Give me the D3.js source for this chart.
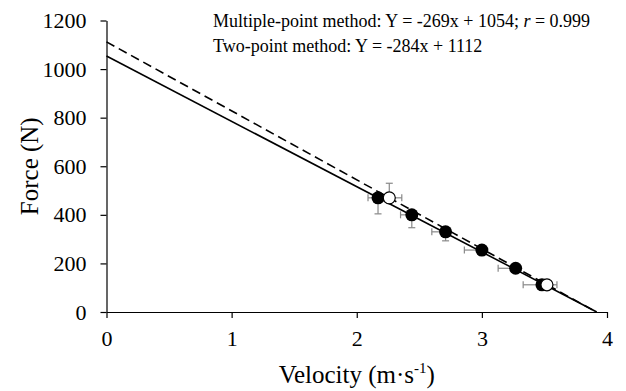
<!DOCTYPE html>
<html>
<head>
<meta charset="utf-8">
<script src="https://cdn.jsdelivr.net/npm/d3@7"></script>
<style>
  body { margin: 0; background: #fff; }
  svg, svg text { font-family: "Liberation Serif", "Times New Roman", serif; }
</style>
</head>
<body>
<div id="chart"></div>
<script>
// multiple-point method (filled), mean with one-sided SD
const multiVelocity = [2.17, 2.44, 2.71, 3.0, 3.27, 3.48];
const multiForce = [470, 400, 330, 255, 180, 112];
const multiVelErr = [0.08, 0.09, 0.11, 0.14, 0.14, 0.15];
const multiForceErr = [66, 53, 37, 20, 15, 10];

// two-point method (open)
const twoVelocity = [2.26, 3.52];
const twoForce = [470, 112];
const twoVelErr = [0.1, 0.08];
const twoForceErr = [60, 10];

// regression lines: slope, intercept
const multiFit = { slope: -269, intercept: 1054 };
const twoFit = { slope: -284, intercept: 1112 };

const xTicks = [0, 1, 2, 3, 4];
const yTicks = [0, 200, 400, 600, 800, 1000, 1200];

const width = 626, height = 391;
const margin = { top: 20.5, right: 19, bottom: 79, left: 106.5 };

const svg = d3.select("#chart").append("svg")
  .attr("width", width).attr("height", height);

const x = d3.scaleLinear().domain([0, 4]).range([margin.left, width - margin.right]);
const y = d3.scaleLinear().domain([0, 1200]).range([height - margin.bottom, margin.top]);

// axes
const xAxis = svg.append("g")
  .attr("transform", `translate(0,${y(0)})`)
  .call(d3.axisBottom(x).tickValues(xTicks).tickFormat(d3.format("d"))
    .tickSize(6).tickSizeOuter(0).tickPadding(12));
const yAxis = svg.append("g")
  .attr("transform", `translate(${x(0)},0)`)
  .call(d3.axisLeft(y).tickValues(yTicks).tickFormat(d3.format("d"))
    .tickSize(6).tickSizeOuter(0).tickPadding(14));

[xAxis, yAxis].forEach(a => {
  a.attr("font-family", null).attr("font-size", 22);
  a.selectAll("path,line").attr("stroke", "#000").attr("stroke-width", 1.2);
  a.selectAll("text").attr("fill", "#000");
});

// regression lines, from x=0 to the x-intercept
function fitLine(fit) {
  const xEnd = -fit.intercept / fit.slope;
  return [[0, fit.intercept], [xEnd, 0]];
}
const line = d3.line().x(d => x(d[0])).y(d => y(d[1]));

svg.append("path").datum(fitLine(multiFit))
  .attr("d", line).attr("fill", "none").attr("stroke", "#000").attr("stroke-width", 1.6);
svg.append("path").datum(fitLine(twoFit))
  .attr("d", line).attr("fill", "none").attr("stroke", "#000").attr("stroke-width", 1.6)
  .attr("stroke-dasharray", "9,5");

// error bars
const cap = 3.5;
const errColor = "#888";
function errorBars(vel, force, vErr, fErr, dir) {
  const g = svg.append("g").attr("stroke", errColor).attr("stroke-width", 1.2);
  vel.forEach((v, i) => {
    const cx = x(v), cy = y(force[i]);
    const ex = x(v + dir * vErr[i]), ey = y(force[i] + dir * fErr[i]);
    g.append("line").attr("x1", cx).attr("x2", ex).attr("y1", cy).attr("y2", cy);
    g.append("line").attr("x1", ex).attr("x2", ex).attr("y1", cy - cap).attr("y2", cy + cap);
    g.append("line").attr("x1", cx).attr("x2", cx).attr("y1", cy).attr("y2", ey);
    g.append("line").attr("x1", cx - cap).attr("x2", cx + cap).attr("y1", ey).attr("y2", ey);
  });
}
errorBars(multiVelocity, multiForce, multiVelErr, multiForceErr, -1);
errorBars(twoVelocity, twoForce, twoVelErr, twoForceErr, 1);

// markers
svg.append("g").selectAll("circle").data(multiVelocity).join("circle")
  .attr("cx", d => x(d)).attr("cy", (d, i) => y(multiForce[i]))
  .attr("r", 6.5).attr("fill", "#000");
svg.append("g").selectAll("circle").data(twoVelocity).join("circle")
  .attr("cx", d => x(d)).attr("cy", (d, i) => y(twoForce[i]))
  .attr("r", 6).attr("fill", "#fff").attr("stroke", "#000").attr("stroke-width", 1.2);

// equations
const eq = svg.append("g").attr("font-size", 18).attr("fill", "#000");
const t1 = eq.append("text").attr("x", 213).attr("y", 27);
t1.append("tspan").text("Multiple-point method: Y = -269x + 1054; ");
t1.append("tspan").attr("font-style", "italic").text("r");
t1.append("tspan").text(" = 0.999");
eq.append("text").attr("x", 213).attr("y", 52).text("Two-point method: Y = -284x + 1112");

// axis titles
svg.append("text")
  .attr("transform", `translate(38,${(y(0) + y(1200)) / 2}) rotate(-90)`)
  .attr("text-anchor", "middle").attr("font-size", 25).text("Force (N)");
const xt = svg.append("text")
  .attr("x", (x(0) + x(4)) / 2).attr("y", 383)
  .attr("text-anchor", "middle").attr("font-size", 25);
xt.append("tspan").text("Velocity (m·s");
xt.append("tspan").attr("font-size", 15).attr("dy", -10).text("-1");
xt.append("tspan").attr("dy", 10).text(")");
</script>
</body>
</html>
